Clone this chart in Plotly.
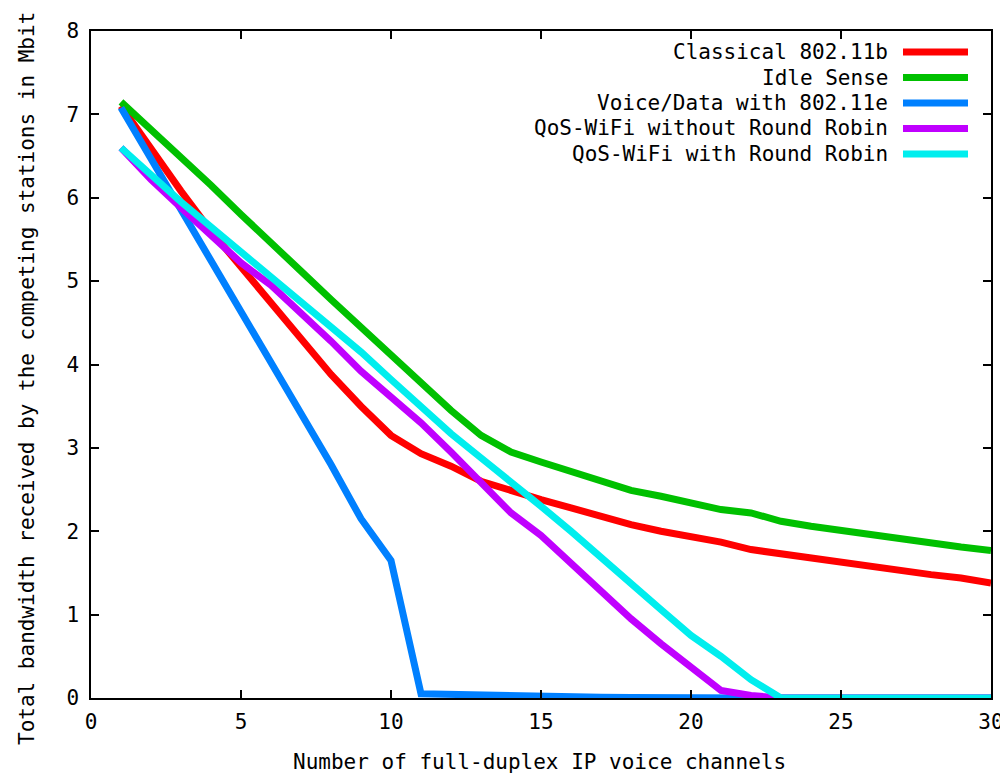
import plotly.graph_objects as go

channels = list(range(1, 31))

classical = [7.10, 6.58, 6.08, 5.60, 5.17, 4.74, 4.31, 3.88, 3.50, 3.15,
             2.93, 2.78, 2.60, 2.48, 2.38, 2.28, 2.17, 2.08, 2.00, 1.94,
             1.87, 1.78, 1.73, 1.68, 1.63, 1.57, 1.51, 1.48, 1.44, 1.38]
idle_sense = [7.15, 6.82, 6.50, 6.15, 5.80, 5.45, 5.12, 4.78, 4.45, 4.12,
              3.78, 3.45, 3.15, 2.95, 2.83, 2.72, 2.60, 2.49, 2.42, 2.33,
              2.26, 2.22, 2.12, 2.06, 2.01, 1.95, 1.89, 1.85, 1.81, 1.77]
voice_data = [7.08, 6.47, 5.86, 5.24, 4.63, 4.02, 3.41, 2.80, 2.15, 1.65,
              0.05, 0.04, 0.03, 0.02, 0.02, 0.02, 0.01, 0.005, 0, 0,
              0, 0, 0, 0, 0, 0, 0, 0, 0, 0]
qos_no_rr = [6.60, 6.22, 5.88, 5.55, 5.22, 4.95, 4.62, 4.28, 3.92, 3.62,
             3.30, 2.95, 2.57, 2.22, 1.95, 1.62, 1.28, 0.95, 0.65, 0.37,
             0.09, 0.03, 0, 0, 0, 0, 0, 0, 0, 0]
qos_rr = [6.60, 6.27, 5.95, 5.65, 5.35, 5.07, 4.77, 4.47, 4.15, 3.82,
          3.50, 3.17, 2.88, 2.60, 2.30, 2.00, 1.68, 1.38, 1.06, 0.75,
          0.50, 0.22, 0, 0, 0, 0, 0, 0, 0, 0]

names = ["Classical 802.11b", "Idle Sense", "Voice/Data with 802.11e",
         "QoS-WiFi without Round Robin", "QoS-WiFi with Round Robin"]
series = [classical, idle_sense, voice_data, qos_no_rr, qos_rr]
colors = ["#ff0000", "#00c000", "#0080ff", "#c000ff", "#00eeee"]

x_title = "Number of full-duplex IP voice channels"
y_title = "Total bandwidth received by the competing stations in Mbit"

FONT = "DejaVu Sans Mono"
FS = 21

fig = go.Figure()
for name, vals, col in zip(names, series, colors):
    fig.add_trace(go.Scatter(x=channels, y=vals, mode="lines", name=name,
                             line=dict(color=col, width=7), showlegend=False))

# page body has an 8px margin, so the figure is 1000x768 placed at (8, 8)
OFF = 8
FIG_W, FIG_H = 1008 - OFF, 776 - OFF
# plot-area geometry in figure pixels
L, R, T, B = 91 - OFF, 991 - OFF, 31 - OFF, 698 - OFF
W, H = R - L, B - T

# gnuplot-style legend: right-aligned text with sample line on the right
row_px = [y - OFF for y in (52, 77.5, 103, 128.5, 154)]
shapes = []
annotations = []
for name, col, ry in zip(names, colors, row_px):
    py = (B - ry) / H
    annotations.append(dict(x=(890 - OFF - L) / W, y=py, xref="paper", yref="paper",
                            text=name, showarrow=False, xanchor="right",
                            yanchor="middle",
                            font=dict(family=FONT, size=FS, color="black")))
    shapes.append(dict(type="line", xref="paper", yref="paper",
                       x0=(903 - OFF - L) / W, x1=(968 - OFF - L) / W, y0=py, y1=py,
                       line=dict(color=col, width=7)))

# axis titles
annotations.append(dict(x=(539 - OFF - L) / W, y=(B - (762 - OFF)) / H,
                        xref="paper", yref="paper",
                        text=x_title, showarrow=False, xanchor="center",
                        yanchor="middle", font=dict(family=FONT, size=FS, color="black")))
annotations.append(dict(x=(27 - OFF - L) / W, y=(B - (379 - OFF)) / H,
                        xref="paper", yref="paper",
                        text=y_title, showarrow=False, xanchor="center",
                        yanchor="middle", textangle=-90,
                        font=dict(family=FONT, size=FS, color="black")))

fig.update_layout(
    width=FIG_W, height=FIG_H,
    margin=dict(l=L, r=FIG_W - R, t=T, b=FIG_H - B, autoexpand=False),
    paper_bgcolor="white", plot_bgcolor="white",
    font=dict(family=FONT, size=FS, color="black"),
    shapes=shapes, annotations=annotations,
    xaxis=dict(range=[0, 30], dtick=5, tick0=0, showgrid=False, zeroline=False,
               showline=True, linecolor="black", linewidth=1.5, mirror="ticks",
               ticks="inside", ticklen=8, tickcolor="black", tickwidth=1.5,
               tickfont=dict(family=FONT, size=FS), automargin=False,
               ticklabelstandoff=4),
    yaxis=dict(range=[0, 8], dtick=1, tick0=0, showgrid=False, zeroline=False,
               showline=True, linecolor="black", linewidth=1.5, mirror="ticks",
               ticks="inside", ticklen=8, tickcolor="black", tickwidth=1.5,
               tickfont=dict(family=FONT, size=FS), automargin=False,
               ticklabelstandoff=6),
)

fig.write_html("out.html")
